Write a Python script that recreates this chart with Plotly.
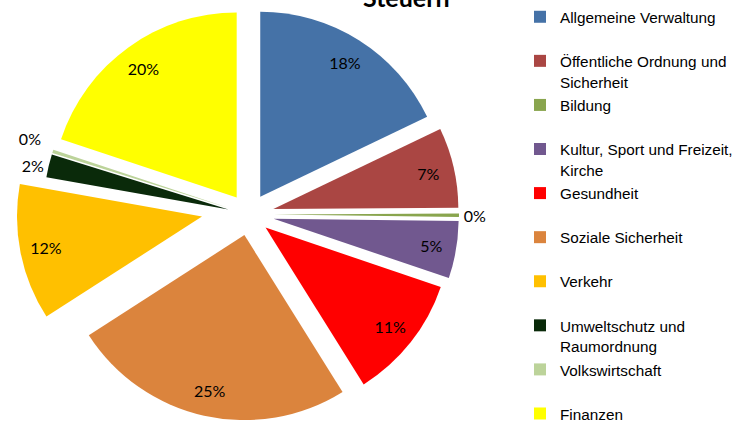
import plotly.graph_objects as go

# ---------------- data ----------------
categories = [
    "Allgemeine Verwaltung",
    "Öffentliche Ordnung und Sicherheit",
    "Bildung",
    "Kultur, Sport und Freizeit, Kirche",
    "Gesundheit",
    "Soziale Sicherheit",
    "Verkehr",
    "Umweltschutz und Raumordnung",
    "Volkswirtschaft",
    "Finanzen",
]
legend_names = [
    "Allgemeine Verwaltung",
    "Öffentliche Ordnung und<br>Sicherheit",
    "Bildung",
    "Kultur, Sport und Freizeit,<br>Kirche",
    "Gesundheit",
    "Soziale Sicherheit",
    "Verkehr",
    "Umweltschutz und<br>Raumordnung",
    "Volkswirtschaft",
    "Finanzen",
]
shares = [17.9, 7.0, 0.3, 5.0, 10.9, 24.8, 11.9, 2.0, 0.3, 19.9]
colors = ["#4572A7", "#AA4643", "#89A54E", "#71588F", "#FF0000",
          "#DB843D", "#FFC000", "#0A2A0A", "#BCD39A", "#FFFF00"]
title_text = "Steuern"
detached = "Verkehr"   # slice that is pulled further out

# ---------------- layout constants (page pixels) ----------------
FIG_W, FIG_H = 735, 900   # extra height is below the visible window
CX, CY = 249, 214.5       # pie centre
R = 185                   # pie radius
PULL = 0.114              # common explode
PULL_RIGHT = 0.135        # slightly larger explode for the slices at 3 o'clock
right_side = ["Öffentliche Ordnung und Sicherheit", "Bildung", "Kultur, Sport und Freizeit, Kirche"]
DET_DX, DET_DY = -47, 2   # extra shift of the detached slice
HOLE = 0.72               # text layers only: pushes inside labels outward
TV_CX, TV_CY, TV_R = 188.7, 185.4, 150  # helper layer for one outside label
CLEAR = "rgba(0,0,0,0)"
label_font = dict(family="Lato", size=16, color="#000000")
LEG_SIZE, LEG_GLYPH = 15.8, 15.3


def fx(px):
    return px / FIG_W


def fy(py):
    return 1 - py / FIG_H


def dom(cx, cy, half):
    return dict(x=[fx(cx - half), fx(cx + half)], y=[fy(cy + half), fy(cy - half)])


n = len(categories)
pulls = [PULL_RIGHT if c in right_side else PULL for c in categories]
dom_main = dom(CX, CY, R * (1 + max(pulls)))
dom_det = dom(CX + DET_DX, CY + DET_DY, R)
dom_tv = dom(TV_CX, TV_CY, TV_R)

is_det = [c == detached for c in categories]
small = [v < 3 for v in shares]
last_small = max(i for i in range(n) if small[i])
pos_main = ["none" if (is_det[i] or i == last_small) else ("outside" if small[i] else "inside")
            for i in range(n)]
pos_det = ["inside" if d else "none" for d in is_det]
pos_tv = ["outside" if i == last_small else "none" for i in range(n)]

common = dict(values=shares, sort=False, direction="clockwise", rotation=0,
              hoverinfo="skip", showlegend=False)
clear_marker = dict(colors=[CLEAR] * n, line=dict(width=0))


def legend_text(i, nm):
    lines = nm.split("<br>")
    if len(lines) == 1 and i != n - 1:
        lines.append("\u200b")
    return "<br>".join('<span style="font-size:%spx">%s</span>' % (LEG_GLYPH, s) for s in lines)


fig = go.Figure()

# legend carrier (tiny pie, off screen)
fig.add_trace(go.Pie(labels=[legend_text(i, nm) for i, nm in enumerate(legend_names)],
                     marker=dict(colors=colors, line=dict(width=0)),
                     textinfo="none", domain=dict(x=[0.9995, 1], y=[0, 0.0005]),
                     values=shares, sort=False, direction="clockwise",
                     hoverinfo="skip", showlegend=True))

# main slices
fig.add_trace(go.Pie(labels=categories,
                     marker=dict(colors=[CLEAR if d else c for d, c in zip(is_det, colors)],
                                 line=dict(width=0)),
                     pull=pulls, textinfo="none", domain=dom_main, **common))
# detached slice
fig.add_trace(go.Pie(labels=categories,
                     marker=dict(colors=[c if d else CLEAR for d, c in zip(is_det, colors)],
                                 line=dict(width=0)),
                     pull=[0] * n, textinfo="none", domain=dom_det, **common))
# text layers
txt = dict(texttemplate="%{percent:.0%}", insidetextorientation="horizontal",
           insidetextfont=label_font, outsidetextfont=label_font)
fig.add_trace(go.Pie(labels=categories, hole=HOLE, marker=clear_marker, pull=pulls,
                     textposition=pos_main, domain=dom_main, **txt, **common))
fig.add_trace(go.Pie(labels=categories, hole=HOLE, marker=clear_marker, pull=[0] * n,
                     textposition=pos_det, domain=dom_det, **txt, **common))
fig.add_trace(go.Pie(labels=categories, marker=clear_marker, pull=[0] * n,
                     textposition=pos_tv, domain=dom_tv, **txt, **common))

fig.update_layout(
    width=FIG_W, height=FIG_H,
    margin=dict(l=0, r=0, t=0, b=0, autoexpand=False),
    paper_bgcolor="white", plot_bgcolor="white",
    showlegend=True,
    legend=dict(x=fx(520), xanchor="left", y=1, yanchor="top",
                valign="top", traceorder="normal",
                font=dict(family="Liberation Sans, Arial", size=LEG_SIZE, color="#000000"),
                bgcolor="rgba(0,0,0,0)", borderwidth=0),
    annotations=[dict(text="<b>" + title_text + "</b>", xref="paper", yref="paper",
                      x=fx(406), y=1, xanchor="center", yanchor="bottom", yshift=-14,
                      showarrow=False,
                      font=dict(family="Lato", size=25, color="#000000"))],
)

fig.write_html("out.html", config={"displayModeBar": False},
               post_script="document.body.style.margin='0px';")
